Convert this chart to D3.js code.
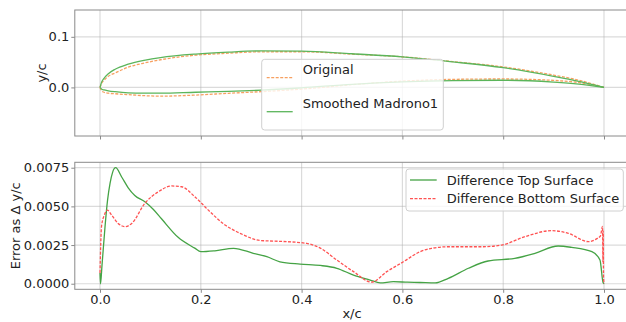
<!DOCTYPE html>
<html>
<head>
<meta charset="utf-8">
<script src="https://cdn.jsdelivr.net/npm/d3@7"></script>
<style>
  body { margin: 0; background: #fff; }
  svg { display: block; font-family: 'DejaVu Sans', sans-serif; }
</style>
</head>
<body>
<svg id="chart" width="626" height="322"></svg>
<script>
// airfoil stations (x/c) used for both surfaces
const stationX = [0, 0.003, 0.008, 0.0165, 0.03, 0.056, 0.09, 0.12, 0.19, 0.255, 0.32, 0.4, 0.5, 0.6, 0.7, 0.8, 0.9, 0.95, 1.0];
const smoothedUpper = [0, 0.010, 0.018, 0.027, 0.036, 0.046, 0.054, 0.059, 0.066, 0.0698, 0.0722, 0.0718, 0.0665, 0.0605, 0.0505, 0.039, 0.022, 0.012, 0];
const smoothedLower = [0, -0.003, -0.005, -0.0067, -0.0085, -0.0106, -0.0112, -0.0113, -0.0095, -0.008, -0.0055, -0.0008, 0.0062, 0.011, 0.0135, 0.0142, 0.0105, 0.0065, 0];
const originalUpper = [0, 0.008, 0.014, 0.022, 0.0285, 0.040, 0.0487, 0.0547, 0.0637, 0.0676, 0.0704, 0.0705, 0.0658, 0.0604, 0.051, 0.0405, 0.0244, 0.0143, 0];
const originalLower = [0, -0.0067, -0.0095, -0.0114, -0.0125, -0.0143, -0.0164, -0.0173, -0.0151, -0.0116, -0.0083, -0.0034, 0.0054, 0.0124, 0.0159, 0.0167, 0.0139, 0.0096, 0];

// error curves
const topErrX = [0, 0.001, 0.004, 0.01, 0.015, 0.02, 0.025, 0.031, 0.043, 0.056, 0.069, 0.089, 0.106, 0.122, 0.155, 0.188, 0.2, 0.228, 0.265, 0.304, 0.331, 0.357, 0.397, 0.437, 0.47, 0.503, 0.536, 0.556, 0.582, 0.61, 0.635, 0.665, 0.691, 0.731, 0.77, 0.823, 0.863, 0.909, 0.936, 0.976, 0.992, 0.998, 1.0];
const topErr = [0.0007, 0.0000, 0.0012, 0.0037, 0.0054, 0.0065, 0.0072, 0.0075, 0.0069, 0.0062, 0.0057, 0.0053, 0.0048, 0.0042, 0.0030, 0.0023, 0.00207, 0.00213, 0.00229, 0.00197, 0.00175, 0.00142, 0.00127, 0.00118, 0.001, 0.00056, 0.00024, 0.00005, 0.00013, 0.0001, 0.00008, 0.00005, 0.00035, 0.001, 0.00147, 0.00164, 0.00197, 0.00244, 0.00235, 0.00207, 0.00153, 0.0001, 0];
const botErrX = [0, 0.003, 0.0086, 0.0145, 0.023, 0.036, 0.05, 0.063, 0.089, 0.116, 0.142, 0.162, 0.188, 0.215, 0.248, 0.265, 0.278, 0.317, 0.37, 0.41, 0.437, 0.47, 0.503, 0.539, 0.569, 0.602, 0.635, 0.658, 0.691, 0.757, 0.797, 0.843, 0.896, 0.929, 0.969, 0.985, 0.993, 0.997, 0.998, 0.9985, 0.999, 1.0];
const botErr = [0.0007, 0.0037, 0.00444, 0.00476, 0.00444, 0.0039, 0.00369, 0.0039, 0.0052, 0.00595, 0.00632, 0.00627, 0.00563, 0.00476, 0.0038, 0.00347, 0.00326, 0.0028, 0.00272, 0.00261, 0.0023, 0.00153, 0.00078, 0.0001, 0.00078, 0.00142, 0.00207, 0.00229, 0.00239, 0.00239, 0.0025, 0.00304, 0.00343, 0.00326, 0.00272, 0.0029, 0.0031, 0.0037, 0.0014, 0.0034, 0.0005, 0];

const xTicks = [0, 0.2, 0.4, 0.6, 0.8, 1.0];
const shapeTicks = [0, 0.1];
const errTicks = [0, 0.0025, 0.005, 0.0075];

const svg = d3.select('#chart');
const left = 74.8, right = 629.2;
const topBox = { top: 10, bottom: 136 };
const botBox = { top: 162.3, bottom: 289.3 };

const x = d3.scaleLinear().domain([-0.05, 1.05]).range([left, right]);
const yShape = d3.scaleLinear().domain([-0.096, 0.153]).range([topBox.bottom, topBox.top]);
const yErr = d3.scaleLinear().domain([-0.00036, 0.00785]).range([botBox.bottom, botBox.top]);

const green = '#5bb55b';
const green2 = '#45a345';
const orange = '#f7a060';
const red = '#ff5252';

function grid(g, y, yt, box) {
  g.selectAll('.gx').data(xTicks).enter().append('line')
    .attr('x1', d => x(d)).attr('x2', d => x(d))
    .attr('y1', box.top).attr('y2', box.bottom)
    .attr('stroke', '#b0b0b0').attr('stroke-opacity', 0.45).attr('stroke-width', 1.2);
  g.selectAll('.gy').data(yt).enter().append('line')
    .attr('x1', left).attr('x2', right)
    .attr('y1', d => y(d)).attr('y2', d => y(d))
    .attr('stroke', '#b0b0b0').attr('stroke-opacity', 0.45).attr('stroke-width', 1.2);
}

function frame(g, y, yt, fmt, box, showX) {
  g.append('rect')
    .attr('x', left).attr('y', box.top)
    .attr('width', right - left).attr('height', box.bottom - box.top)
    .attr('fill', 'none').attr('stroke', '#8a8a8a').attr('stroke-width', 1);

  const ax = g.append('g')
    .attr('transform', `translate(0,${box.bottom})`)
    .call(d3.axisBottom(x).tickValues(xTicks).tickSize(3.5).tickSizeOuter(0).tickPadding(2)
      .tickFormat(showX ? d3.format('.1f') : () => ''));
  const ay = g.append('g')
    .attr('transform', `translate(${left},0)`)
    .call(d3.axisLeft(y).tickValues(yt).tickSize(3.5).tickSizeOuter(0).tickPadding(2).tickFormat(fmt));
  [ax, ay].forEach(a => {
    a.attr('font-size', 13).attr('font-family', 'DejaVu Sans');
    a.select('.domain').remove();
    a.selectAll('line').attr('stroke', '#8a8a8a');
    a.selectAll('text').attr('fill', '#222');
  });
}

// ---- top panel: airfoil shape
const shapePanel = svg.append('g');
grid(shapePanel, yShape, shapeTicks, topBox);

const shapeLine = d3.line()
  .x(d => x(d[0])).y(d => yShape(d[1]))
  .curve(d3.curveMonotoneX);

[originalUpper, originalLower].forEach(s => {
  shapePanel.append('path')
    .datum(stationX.map((v, i) => [v, s[i]]))
    .attr('d', shapeLine)
    .attr('fill', 'none').attr('stroke', orange).attr('stroke-width', 1.3)
    .attr('stroke-dasharray', '3,1.5');
});
[smoothedUpper, smoothedLower].forEach(s => {
  shapePanel.append('path')
    .datum(stationX.map((v, i) => [v, s[i]]))
    .attr('d', shapeLine)
    .attr('fill', 'none').attr('stroke', green).attr('stroke-width', 1.3);
});
frame(shapePanel, yShape, shapeTicks, d3.format('.1f'), topBox, false);

shapePanel.append('text')
  .attr('transform', `translate(46,${(topBox.top + topBox.bottom) / 2}) rotate(-90)`)
  .attr('text-anchor', 'middle')
  .style('font-size', '13px').attr('fill', '#222')
  .text('y/c');

// legend (top)
const lg1 = shapePanel.append('g');
lg1.append('rect')
  .attr('x', 261.7).attr('y', 59.3).attr('width', 181.6).attr('height', 70.7)
  .attr('rx', 3).attr('fill', '#fff').attr('fill-opacity', 0.8)
  .attr('stroke', '#d0d0d0').attr('stroke-width', 1);
lg1.append('line').attr('x1', 266.7).attr('x2', 292.7).attr('y1', 77.7).attr('y2', 77.7)
  .attr('stroke', orange).attr('stroke-width', 1.3).attr('stroke-dasharray', '3,1.5');
lg1.append('line').attr('x1', 266.7).attr('x2', 292.7).attr('y1', 111.7).attr('y2', 111.7)
  .attr('stroke', green).attr('stroke-width', 1.3);
lg1.append('text').attr('x', 302.7).attr('y', 73.6).style('font-size', '13px').attr('fill', '#222').text('Original');
lg1.append('text').attr('x', 302.7).attr('y', 107.6).style('font-size', '13px').attr('fill', '#222').text('Smoothed Madrono1');

// ---- bottom panel: error
const errPanel = svg.append('g');
grid(errPanel, yErr, errTicks, botBox);

const errLine = d3.line()
  .x(d => x(d[0])).y(d => yErr(d[1]))
  .curve(d3.curveMonotoneX);

errPanel.append('path')
  .datum(topErrX.map((v, i) => [v, topErr[i]]))
  .attr('d', errLine)
  .attr('fill', 'none').attr('stroke', green2).attr('stroke-width', 1.3);
errPanel.append('path')
  .datum(botErrX.map((v, i) => [v, botErr[i]]))
  .attr('d', errLine)
  .attr('fill', 'none').attr('stroke', red).attr('stroke-width', 1.3)
  .attr('stroke-dasharray', '3,1.5');

frame(errPanel, yErr, errTicks, d3.format('.4f'), botBox, true);

errPanel.append('text')
  .attr('transform', `translate(20,${(botBox.top + botBox.bottom) / 2}) rotate(-90)`)
  .attr('text-anchor', 'middle')
  .style('font-size', '13px').attr('fill', '#222')
  .text('Error as Δ y/c');
errPanel.append('text')
  .attr('x', x(0.5)).attr('y', 318)
  .attr('text-anchor', 'middle')
  .style('font-size', '13px').attr('fill', '#222')
  .text('x/c');

// legend (bottom)
const lg2 = errPanel.append('g');
lg2.append('rect')
  .attr('x', 406).attr('y', 169).attr('width', 217.3).attr('height', 42)
  .attr('rx', 3).attr('fill', '#fff').attr('fill-opacity', 0.8)
  .attr('stroke', '#d0d0d0').attr('stroke-width', 1);
lg2.append('line').attr('x1', 410).attr('x2', 436.7).attr('y1', 180).attr('y2', 180)
  .attr('stroke', green2).attr('stroke-width', 1.3);
lg2.append('line').attr('x1', 410).attr('x2', 436.7).attr('y1', 198.7).attr('y2', 198.7)
  .attr('stroke', red).attr('stroke-width', 1.3).attr('stroke-dasharray', '3,1.5');
lg2.append('text').attr('x', 446.7).attr('y', 184.6).style('font-size', '13px').attr('fill', '#222').text('Difference Top Surface');
lg2.append('text').attr('x', 446.7).attr('y', 203.3).style('font-size', '13px').attr('fill', '#222').text('Difference Bottom Surface');
</script>
</body>
</html>
